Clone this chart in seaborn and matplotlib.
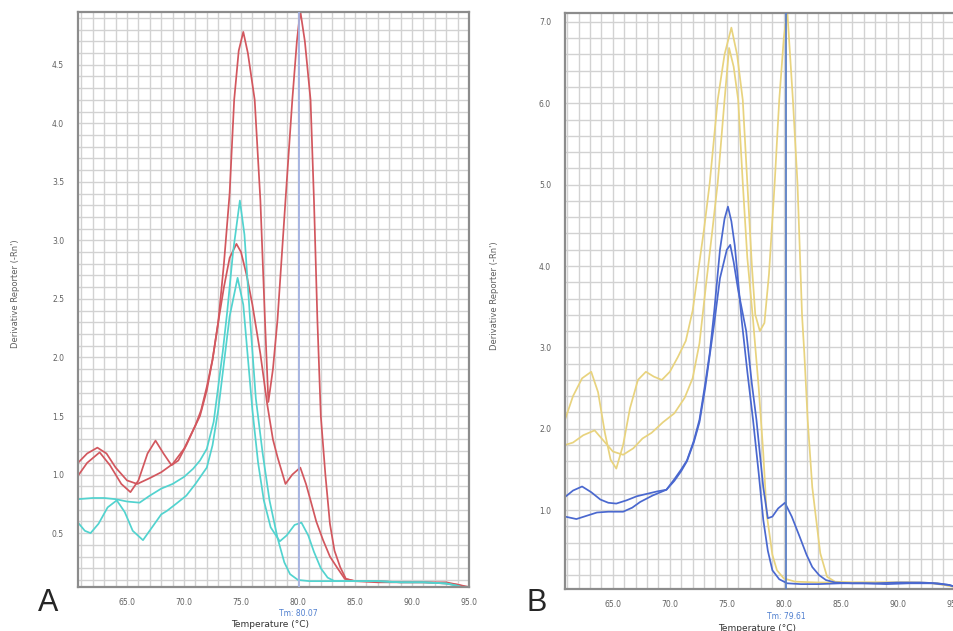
import matplotlib
matplotlib.use("Agg")
import matplotlib.pyplot as plt
from matplotlib.ticker import MultipleLocator, FormatStrFormatter
import pandas as pd
import seaborn as sns

# ---- panel A: melt curves (temperature degC, derivative reporter) ----
red1_t = [60.7, 61.5, 62.4, 63.2, 64.0, 65.0, 65.9, 67.0, 68.0, 69.0, 70.0, 70.8, 71.4, 72.0,
          72.5, 73.0, 73.5, 74.0, 74.4, 74.8, 75.2, 75.6, 76.2, 76.7, 77.1, 77.4, 77.8, 78.2,
          78.9, 79.5, 79.9, 80.2, 80.6, 81.1, 81.4, 81.7, 82.0, 82.4, 82.8, 83.2, 83.7, 84.2,
          85.0, 87.0, 89.0, 91.0, 93.0, 94.0, 95.0]
red1_v = [1.10, 1.18, 1.23, 1.18, 1.06, 0.95, 0.92, 0.97, 1.02, 1.09, 1.22, 1.38, 1.50, 1.72,
          1.98, 2.30, 2.80, 3.40, 4.20, 4.62, 4.78, 4.60, 4.20, 3.34, 2.32, 1.62, 1.90, 2.32,
          3.34, 4.20, 4.70, 4.96, 4.70, 4.20, 3.34, 2.32, 1.50, 1.00, 0.58, 0.35, 0.21, 0.11,
          0.09, 0.09, 0.08, 0.08, 0.08, 0.06, 0.04]

red2_t = [60.7, 61.5, 62.6, 63.5, 64.5, 65.3, 66.0, 66.8, 67.5, 68.2, 68.9, 69.5, 70.2, 71.0,
          71.5, 72.0, 72.5, 73.0, 73.5, 74.0, 74.6, 75.0, 75.5, 76.0, 76.7, 77.3, 77.8, 78.2,
          78.9, 79.5, 80.2, 80.7, 81.1, 81.6, 82.2, 82.8, 83.4, 84.1, 85.0, 87.0, 89.0, 91.0,
          93.0, 94.0, 95.0]
red2_v = [0.99, 1.10, 1.19, 1.08, 0.92, 0.85, 0.95, 1.18, 1.29, 1.18, 1.08, 1.12, 1.25, 1.42,
          1.55, 1.75, 1.98, 2.30, 2.60, 2.85, 2.97, 2.90, 2.70, 2.45, 2.03, 1.60, 1.30, 1.15,
          0.92, 1.00, 1.06, 0.92, 0.78, 0.60, 0.44, 0.30, 0.21, 0.11, 0.09, 0.08, 0.08, 0.08,
          0.07, 0.06, 0.03]

cyan1_t = [60.7, 62.0, 63.0, 64.0, 65.0, 66.1, 67.0, 68.0, 69.0, 70.0, 70.8, 71.4, 72.0, 72.6,
           73.0, 73.4, 73.8, 74.3, 74.9, 75.3, 75.8, 76.3, 76.9, 77.5, 78.2, 78.8, 79.3, 80.0,
           81.0, 83.0, 85.0, 87.0, 89.0, 91.0, 93.0, 94.0, 95.0]
cyan1_v = [0.79, 0.80, 0.80, 0.79, 0.77, 0.76, 0.82, 0.88, 0.92, 0.98, 1.05, 1.12, 1.22, 1.45,
           1.75, 2.05, 2.40, 2.90, 3.34, 3.05, 2.32, 1.65, 1.18, 0.78, 0.46, 0.25, 0.15, 0.10,
           0.09, 0.09, 0.09, 0.09, 0.08, 0.08, 0.07, 0.05, 0.02]

cyan2_t = [60.7, 61.3, 61.8, 62.5, 63.3, 64.1, 64.8, 65.5, 66.4, 67.2, 68.0, 68.5, 69.3, 70.2,
           71.0, 72.0, 72.5, 73.0, 73.5, 74.0, 74.7, 75.2, 75.6, 76.0, 76.5, 77.0, 77.6, 78.4,
           79.0, 79.7, 80.3, 80.9, 81.4, 82.0, 82.6, 83.2, 85.0, 87.0, 89.0, 91.0, 93.0, 94.0,
           95.0]
cyan2_v = [0.59, 0.52, 0.50, 0.58, 0.72, 0.78, 0.68, 0.52, 0.44, 0.55, 0.66, 0.69, 0.75, 0.82,
           0.92, 1.06, 1.25, 1.55, 1.95, 2.35, 2.68, 2.45, 2.00, 1.55, 1.10, 0.78, 0.55, 0.43,
           0.48, 0.57, 0.59, 0.48, 0.34, 0.20, 0.12, 0.09, 0.09, 0.09, 0.08, 0.08, 0.07, 0.05,
           0.02]

# ---- panel B ----
yel1_t = [60.8, 61.5, 62.3, 63.1, 63.7, 64.3, 64.8, 65.3, 65.9, 66.5, 67.2, 67.9, 68.6, 69.3,
          70.0, 70.7, 71.4, 72.0, 72.5, 73.0, 73.5, 74.2, 74.8, 75.4, 75.9, 76.4, 76.8, 77.2,
          77.5, 77.9, 78.3, 78.7, 79.2, 79.6, 80.0, 80.3, 80.8, 81.2, 81.6, 81.8, 82.1, 82.5,
          83.2, 83.8, 84.5, 86.0, 88.0, 90.0, 92.0, 93.5, 94.5, 95.2]
yel1_v = [2.11, 2.40, 2.62, 2.70, 2.45, 1.95, 1.62, 1.51, 1.80, 2.25, 2.60, 2.70, 2.64, 2.60,
          2.70, 2.88, 3.08, 3.45, 3.95, 4.45, 5.02, 6.04, 6.60, 6.93, 6.60, 6.04, 5.02, 4.00,
          3.40, 3.20, 3.30, 3.90, 5.02, 6.04, 6.80, 7.15, 6.04, 5.02, 3.40, 2.93, 2.10, 1.28,
          0.47, 0.18, 0.12, 0.11, 0.11, 0.11, 0.11, 0.10, 0.07, 0.05]

yel2_t = [60.8, 61.5, 62.4, 63.4, 64.2, 65.0, 65.9, 66.8, 67.6, 68.4, 69.4, 70.4, 71.3, 72.0,
          72.6, 73.2, 73.7, 74.2, 74.8, 75.2, 75.6, 76.0, 76.4, 76.8, 77.3, 77.8, 78.2, 78.5,
          79.0, 79.4, 80.0, 81.0, 83.0, 85.0, 87.0, 89.0, 91.0, 93.0, 94.5, 95.2]
yel2_v = [1.80, 1.83, 1.92, 1.98, 1.85, 1.72, 1.68, 1.76, 1.88, 1.95, 2.08, 2.19, 2.38, 2.62,
          3.05, 3.80, 4.40, 5.02, 6.04, 6.68, 6.45, 6.04, 5.02, 4.10, 3.34, 2.50, 1.70, 0.95,
          0.45, 0.26, 0.16, 0.12, 0.11, 0.11, 0.11, 0.11, 0.11, 0.10, 0.07, 0.05]

blue1_t = [60.8, 61.5, 62.3, 63.1, 63.9, 64.6, 65.3, 66.2, 67.1, 68.0, 68.9, 69.7, 70.4, 71.0,
           71.5, 72.1, 72.6, 73.1, 73.5, 73.9, 74.4, 74.8, 75.1, 75.4, 75.7, 76.0, 76.3, 76.8,
           77.3, 77.8, 78.2, 78.6, 79.0, 79.6, 80.3, 81.5, 83.0, 85.0, 87.0, 89.0, 91.0, 93.0,
           94.5, 95.2]
blue1_v = [1.16, 1.24, 1.29, 1.22, 1.13, 1.09, 1.08, 1.12, 1.17, 1.20, 1.23, 1.25, 1.38, 1.50,
           1.61, 1.85, 2.11, 2.55, 2.93, 3.45, 4.20, 4.58, 4.73, 4.55, 4.25, 3.80, 3.34, 2.70,
           2.11, 1.45, 0.88, 0.50, 0.26, 0.15, 0.10, 0.09, 0.09, 0.10, 0.10, 0.09, 0.10, 0.10,
           0.08, 0.05]

blue2_t = [60.8, 61.8, 62.7, 63.6, 64.6, 65.9, 66.7, 67.4, 68.5, 69.7, 70.4, 71.0, 71.5, 72.1,
           72.6, 73.1, 73.5, 73.9, 74.4, 75.0, 75.3, 75.6, 76.0, 76.7, 77.2, 77.6, 78.2, 78.6,
           79.0, 79.5, 80.1, 80.7, 81.4, 82.0, 82.5, 83.1, 83.7, 84.5, 86.0, 88.0, 90.0, 92.0,
           93.5, 94.5, 95.2]
blue2_v = [0.92, 0.89, 0.93, 0.97, 0.98, 0.98, 1.03, 1.10, 1.18, 1.25, 1.36, 1.48, 1.60, 1.83,
           2.08, 2.50, 2.90, 3.30, 3.85, 4.20, 4.26, 4.05, 3.70, 3.20, 2.55, 2.11, 1.28, 0.90,
           0.92, 1.02, 1.09, 0.92, 0.67, 0.45, 0.30, 0.20, 0.14, 0.11, 0.10, 0.10, 0.11, 0.11,
           0.10, 0.08, 0.05]

tm_a, tm_label_a = 80.07, "Tm: 80.07"
tm_b, tm_label_b = 80.2, "Tm: 79.61"

x_ticks = [65.0, 70.0, 75.0, 80.0, 85.0, 90.0, 95.0]

RED, CYAN, YEL, BLUE = "#d2575e", "#52d3cf", "#e8d37e", "#4a68cf"
GRID, SPINE, TXT = "#d2d2d2", "#8c8c8c", "#606060"

sns.set_style("white")
plt.rcParams["font.family"] = ["DejaVu Sans"]

fig = plt.figure(figsize=(9.54, 6.31), dpi=100)
ax_a = fig.add_axes([78 / 954, 44 / 631, 391 / 954, 575 / 631])
ax_b = fig.add_axes([565 / 954, 42 / 631, 392 / 954, 576 / 631])


def draw(ax, curves, xlim, ylim, ystep, yminor, tm, tm_col, tm_text, ylab_x, xlab_y):
    for t, v, c in curves:
        df = pd.DataFrame({"temp": t, "val": v})
        sns.lineplot(data=df, x="temp", y="val", color=c, lw=1.25, ax=ax,
                     estimator=None, sort=False)
    ax.axvline(tm, color=tm_col, lw=1.3, zorder=3)
    ax.set_xlim(*xlim)
    ax.set_ylim(*ylim)
    ax.set_xticks(x_ticks)
    ax.xaxis.set_major_formatter(FormatStrFormatter("%.1f"))
    ax.yaxis.set_major_locator(MultipleLocator(ystep))
    ax.yaxis.set_major_formatter(FormatStrFormatter("%.1f"))
    ax.xaxis.set_minor_locator(MultipleLocator(1))
    ax.yaxis.set_minor_locator(MultipleLocator(yminor))
    ax.grid(which="both", color=GRID, lw=1.0)
    ax.set_axisbelow(True)
    ax.tick_params(which="major", length=3, width=0.8, color=SPINE, labelsize=5.5,
                   labelcolor=TXT, pad=5)
    ax.tick_params(axis="y", which="major", pad=7)
    ax.tick_params(which="minor", length=0)
    for s in ax.spines.values():
        s.set_color(SPINE)
        s.set_linewidth(1.6)
    ax.set_xlabel("")
    ax.set_ylabel("")
    ax.text(-ylab_x, 0.51, "Derivative Reporter (-Rn')", rotation=90, transform=ax.transAxes,
            ha="center", va="center", fontsize=6, color=TXT)
    ax.text(tm, xlab_y + 0.02, tm_text, transform=ax.get_xaxis_transform(), ha="center",
            va="center", fontsize=5.5, color="#4f7fcf")
    ax.text(0.49, xlab_y, "Temperature (\u00b0C)", transform=ax.transAxes, ha="center",
            va="center", fontsize=6.5, color="#333333")


draw(ax_a, [(red1_t, red1_v, RED), (red2_t, red2_v, RED),
            (cyan1_t, cyan1_v, CYAN), (cyan2_t, cyan2_v, CYAN)],
     (60.7, 95.0), (0.04, 4.95), 0.5, 0.1, tm_a, "#a4b2e2", tm_label_a, 0.161, -0.066)
draw(ax_b, [(yel1_t, yel1_v, YEL), (yel2_t, yel2_v, YEL),
            (blue1_t, blue1_v, BLUE), (blue2_t, blue2_v, BLUE)],
     (60.8, 95.2), (0.03, 7.11), 1.0, 0.2, tm_b, "#5a7fc4", tm_label_b, 0.179, -0.068)

fig.text(48 / 954, 1 - 603 / 631, "A", fontsize=22, ha="center", va="center",
         family=["Liberation Sans"])
fig.text(537 / 954, 1 - 603 / 631, "B", fontsize=22, ha="center", va="center",
         family=["Liberation Sans"])

fig.savefig("out.png", dpi=100, facecolor="white")
